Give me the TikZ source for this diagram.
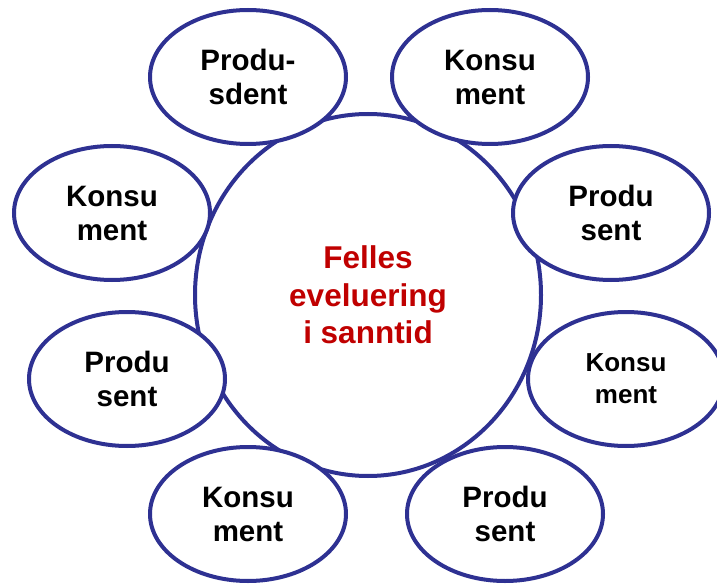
\documentclass[tikz,border=0pt]{standalone}
\usepackage{fontspec}
\setmainfont{Liberation Sans}
\usetikzlibrary{shapes}
\definecolor{ringblue}{RGB}{46,49,146}
\definecolor{hubred}{RGB}{192,0,0}

\begin{document}
\begin{tikzpicture}[x=1pt,y=-1pt]
  \tikzstyle{hub}=[ellipse,line width=4pt,draw=ringblue,fill=white,
  		   minimum width=346pt,minimum height=362pt,inner sep=0pt,
  		   text=hubred,align=center,
  		   font=\fontsize{31.5}{37.5}\selectfont\bfseries]
  \tikzstyle{role}=[ellipse,line width=4pt,draw=ringblue,fill=white,
  		    minimum width=196pt,minimum height=134pt,inner sep=0pt,
  		    align=center,font=\fontsize{29.5}{34}\selectfont\bfseries]
  \tikzstyle{small role}=[role,font=\fontsize{26}{32}\selectfont\bfseries]

  \useasboundingbox (0,0) rectangle (717,585);

  \node [hub] (hub) at (368,295) {Felles\\eveluering\\i sanntid};

  \node [role] (p1) at (248,77)  {Produ-\\sdent};
  \node [role] (k1) at (490,77)  {Konsu\\ment};
  \node [role] (k2) at (112,213) {Konsu\\ment};
  \node [role] (p2) at (611,213) {Produ\\sent};
  \node [role] (p3) at (127,379) {Produ\\sent};
  \node [small role] (k3) at (626,379) {Konsu\\ment};
  \node [role] (k4) at (248,514) {Konsu\\ment};
  \node [role] (p4) at (505,514) {Produ\\sent};
\end{tikzpicture}
\end{document}
